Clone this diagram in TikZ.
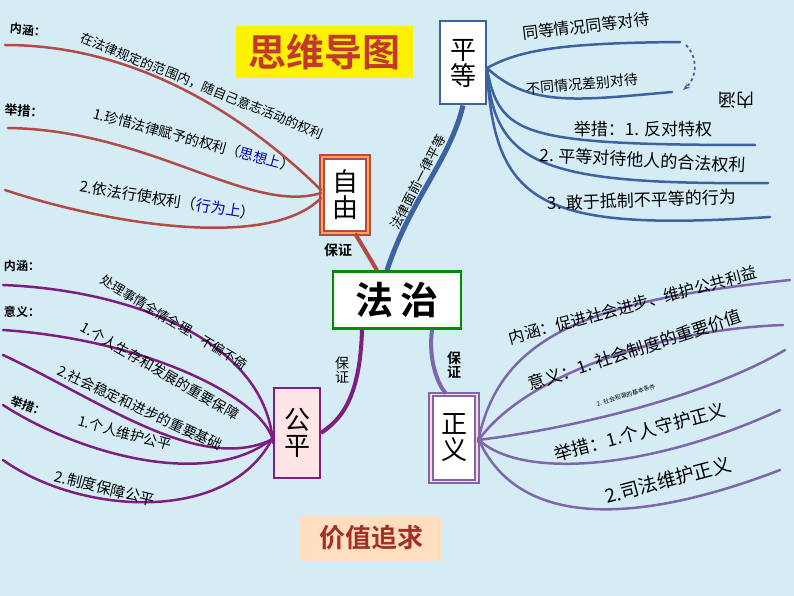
\documentclass[tikz,border=0pt]{standalone}
\usepackage{fontspec}
\setmainfont{Noto Sans CJK SC}[BoldFont={Noto Sans CJK SC Bold}]
\usetikzlibrary{arrows.meta}
\definecolor{bg}{HTML}{D5ECF4}
\definecolor{zy}{HTML}{B24A48}
\definecolor{pd}{HTML}{3D62A0}
\definecolor{gp}{HTML}{7C1F80}
\definecolor{zyi}{HTML}{7E66AA}
\definecolor{tr}{HTML}{C0392B}
\tikzset{
 fs/.style={font=\fontsize{#1}{#1}\selectfont},
 fsb/.style={font=\fontsize{#1}{#1}\selectfont\bfseries},
 lbl/.style={inner sep=0pt, text=black},
 br/.style={line width=2.5pt, line cap=round},
 boxv/.style={draw, line width=2pt, fill=white, minimum width=46pt, align=center, inner sep=2pt},
}
\begin{document}
\begin{tikzpicture}[x=1pt,y=-1pt]
\fill[bg] (0,0) rectangle (794,596);
\useasboundingbox (0,0) rectangle (794,596);
% boxes
\node[fill=yellow, minimum width=177pt, minimum height=52pt, text=tr, fsb=38] (title) at (324,52) {思维导图};
\node[boxv, draw=pd, minimum height=83pt, fs=26, text=black] (pd) at (463,63) {平\\等};
\node[boxv, draw=zy, fill=white, minimum height=75pt, fs=26, double=orange!70, double distance=2pt] (zyou) at (345,195) {自\\由};
\node[draw=green!55!black, line width=2.5pt, fill=white, minimum width=128pt, minimum height=57pt, fsb=38] (fz) at (397,300) {法\,治};
\node[boxv, draw=gp, fill=pink!40, minimum height=90pt, fs=26] (gp) at (297,433) {公\\平};
\node[boxv, draw=zyi, minimum height=87pt, fs=26, double=pink!60, double distance=1.5pt] (zyi) at (454,438) {正\\义};
\node[fill=orange!25, minimum width=142pt, minimum height=45pt, text=tr!85!black, fsb=26] (jz) at (371,538) {价值追求};

% main connectors
\draw[pd, line width=5pt] ([xshift=-10pt]fz.north) .. controls (410,200) and (450,160) .. (pd.south);
\node[lbl, fs=13, rotate=63] (lab1) at (418,182) {法律面前一律平等};
\draw[zy, line width=4pt] ([xshift=-20pt]fz.north) -- ([xshift=10pt]zyou.south);
\node[lbl, fsb=14] (lab2) at (338,250) {保证};
\draw[gp, line width=4pt] ([xshift=-35pt]fz.south) .. controls (360,400) and (340,420) .. (gp.east);
\node[lbl, fs=14, align=center] (lab3) at (342,370) {保\\证};
\draw[zyi, line width=4pt] ([xshift=35pt]fz.south) .. controls (428,360) and (438,385) .. ([xshift=-8pt]zyi.north);
\node[lbl, fsb=14, align=center] (lab4) at (454,365) {保\\证};

% 自由 branches
\coordinate (z1) at (5,45); \coordinate (z2) at (8,128); \coordinate (z3) at (5,190);
\draw[zy, br] (z1) .. controls (140,45) and (250,120) .. ([yshift=5pt]zyou.west);
\draw[zy, br] (z2) .. controls (150,130) and (250,215) .. ([yshift=2pt]zyou.west);
\draw[zy, br] (z3) .. controls (110,225) and (270,250) .. ([yshift=-3pt]zyou.west);
\node[lbl, fsb=12, rotate=-5] (a1) at (28,30) {内涵：};
\node[lbl, fs=13, rotate=-22] (a2) at (202,86) {在法律规定的范围内，随自己意志活动的权利};
\node[lbl, fsb=13, rotate=-3] (a3) at (24,111) {举措：};
\node[lbl, fs=14, rotate=-15] (a4) at (194,140) {1.珍惜法律赋予的权利（\textcolor{blue!70!black}{思想上}）};
\node[lbl, fs=15, rotate=-9] (a5) at (168,200) {2.依法行使权利（\textcolor{blue!70!black}{行为上}）};

% 平等 branches
\coordinate (p1) at (680,42); \coordinate (p2) at (672,92); \coordinate (p3) at (755,145);
\coordinate (p4) at (768,183); \coordinate (p5) at (770,217);
\draw[pd, br] ([yshift=-5pt]pd.east) .. controls (520,50) and (560,43) .. (p1);
\draw[pd, br] ([yshift=-5pt]pd.east) .. controls (530,108) and (580,100) .. (p2);
\draw[pd, br] ([yshift=-6pt]pd.east) .. controls (500,135) and (520,145) .. (p3);
\draw[pd, br] ([yshift=-7pt]pd.east) .. controls (495,165) and (540,185) .. (p4);
\draw[pd, br] ([yshift=-8pt]pd.east) .. controls (495,205) and (540,232) .. (p5);
\coordinate (d1) at (686,45); \coordinate (d2) at (683,90);
\draw[pd, line width=1.8pt, dashed, -{Stealth[length=7pt]}] (d1) .. controls (700,60) and (695,80) .. (d2);
\node[lbl, fs=16, rotate=7] (b1) at (586,26) {同等情况同等对待};
\node[lbl, fs=14, rotate=5] (b2) at (582,84) {不同情况差别对待};
\node[lbl, fs=18, rotate=180] (b3) at (736,100) {内涵};
\node[lbl, fs=17] (b4) at (643,129) {举措：1. 反对特权};
\node[lbl, fs=17, rotate=-3] (b5) at (643,160) {2. 平等对待他人的合法权利};
\node[lbl, fs=17, rotate=2] (b6) at (642,200) {3. 敢于抵制不平等的行为};

% 公平 branches
\coordinate (g1) at (3,285); \coordinate (g2) at (3,330); \coordinate (g3) at (3,355);
\coordinate (g4) at (3,405); \coordinate (g5) at (3,460);
\draw[gp, br] (g1) .. controls (130,290) and (265,340) .. ([yshift=-10pt]gp.west);
\draw[gp, br] (g2) .. controls (150,340) and (265,400) .. ([yshift=-8pt]gp.west);
\draw[gp, br] (g3) .. controls (100,400) and (200,475) .. ([yshift=-6pt]gp.west);
\draw[gp, br] (g4) .. controls (80,455) and (210,490) .. ([yshift=-5pt]gp.west);
\draw[gp, br] (g5) .. controls (80,515) and (230,525) .. ([yshift=-4pt]gp.west);
\node[lbl, fsb=12] (c1) at (22,266) {内涵：};
\node[lbl, fs=13, rotate=-31] (c2) at (174,322) {处理事情全情全理、不偏不倚};
\node[lbl, fsb=12] (c3) at (22,312) {意义：};
\node[lbl, fs=14, rotate=-30] (c4) at (160,371) {1.个人生存和发展的重要保障};
\node[lbl, fs=14, rotate=-25] (c5) at (140,408) {2.社会稳定和进步的重要基础};
\node[lbl, fsb=12, rotate=-20] (c6) at (28,406) {举措：};
\node[lbl, fs=14, rotate=-15] (c7) at (125,433) {1.个人维护公平};
\node[lbl, fs=15, rotate=-14] (c8) at (105,488) {2.制度保障公平};

% 正义 branches
\coordinate (j1) at (790,280); \coordinate (j2) at (783,325); \coordinate (j3) at (785,350);
\coordinate (j4) at (780,410); \coordinate (j5) at (780,470);
\draw[zyi, br] ([yshift=-4pt]zyi.east) .. controls (500,330) and (600,300) .. (j1);
\draw[zyi, br] ([yshift=-3pt]zyi.east) .. controls (520,380) and (650,330) .. (j2);
\draw[zyi, br] ([yshift=-2pt]zyi.east) .. controls (560,430) and (700,400) .. (j3);
\draw[zyi, br] ([yshift=-1pt]zyi.east) .. controls (520,480) and (650,470) .. (j4);
\draw[zyi, br] (zyi.east) .. controls (520,535) and (650,520) .. (j5);
\node[lbl, fs=16, rotate=15] (e1) at (633,305) {内涵：促进社会进步、维护公共利益};
\node[lbl, fs=17, rotate=18] (e2) at (635,350) {意义：1. 社会制度的重要价值};
\node[lbl, fs=6, rotate=17] (e3) at (626,395) {2. 社会和谐的基本条件};
\node[lbl, fs=18, rotate=15] (e4) at (640,432) {举措：1.个人守护正义};
\node[lbl, fs=19, rotate=15] (e5) at (668,480) {2.司法维护正义};
\end{tikzpicture}
\end{document}
